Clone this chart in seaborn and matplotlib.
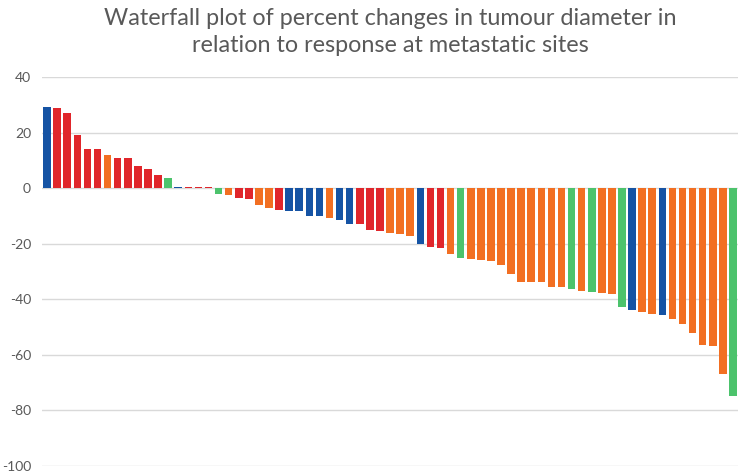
import pandas as pd
import seaborn as sns
import matplotlib.pyplot as plt

# percent change in tumour diameter, one bar per metastatic site (sorted)
change = [29.4, 28.9, 27.0, 19.3, 14.0, 14.0, 11.8, 11.0, 11.0, 7.8,
          7.0, 4.7, 3.5, 0.5, 0.5, 0.5, 0.5, -2.2, -2.5, -3.6,
          -4.0, -6.1, -7.0, -7.8, -8.1, -8.3, -9.9, -10.1, -10.8, -11.4,
          -13.0, -13.0, -15.0, -15.4, -16.1, -16.7, -17.3, -20.0, -21.4, -21.5,
          -23.9, -25.1, -25.5, -26.0, -26.2, -27.6, -31.0, -33.7, -33.7, -33.9,
          -35.5, -35.5, -36.3, -37.1, -37.6, -37.9, -38.0, -42.9, -44.0, -44.5,
          -45.5, -45.6, -47.3, -48.9, -52.3, -56.7, -56.9, -66.9, -75.1]
# response group of each site (colour coded in the original, no legend)
response = ['B', 'R', 'R', 'R', 'R', 'R', 'O', 'R', 'R', 'R',
            'R', 'R', 'G', 'B', 'R', 'R', 'R', 'G', 'O', 'R',
            'R', 'O', 'O', 'R', 'B', 'B', 'B', 'B', 'O', 'B',
            'B', 'R', 'R', 'R', 'O', 'O', 'O', 'B', 'R', 'R',
            'O', 'G', 'O', 'O', 'O', 'O', 'O', 'O', 'O', 'O',
            'O', 'O', 'G', 'O', 'G', 'O', 'O', 'G', 'B', 'O',
            'O', 'B', 'O', 'O', 'O', 'O', 'O', 'O', 'G']
colors = {'B': '#1553a4', 'R': '#e0262b', 'O': '#f26f22', 'G': '#4cc36c'}

df = pd.DataFrame({'site': range(len(change)), 'change': change, 'response': response})

plt.rcParams['axes.unicode_minus'] = False

fig = plt.figure(figsize=(7.38, 4.76), dpi=100)
ax = fig.add_axes([0.057, 0.022, 0.943, 0.816])

sns.barplot(data=df, x='site', y='change', hue='response', palette=colors,
            dodge=False, width=0.75, saturation=1, legend=False, ax=ax)

ax.set_xlim(-0.5, len(change) - 0.5)
ax.set_ylim(-100, 40)
ax.set_yticks(range(-100, 41, 20))
ax.yaxis.grid(True, color='#d9d9d9', linewidth=1)
ax.set_axisbelow(True)
ax.set_xticks([])
ax.set_xlabel('')
ax.set_ylabel('')
for s in ax.spines.values():
    s.set_visible(False)
ax.tick_params(axis='y', length=0, labelsize=10, labelcolor='#595959', pad=8)
for lbl in ax.get_yticklabels():
    lbl.set_family('Lato')

ax.set_title('Waterfall plot of percent changes in tumour diameter in\nrelation to response at metastatic sites',
             fontsize=16.8, color='#595959', family='Lato', pad=18, linespacing=1.35)

fig.savefig('out.png', dpi=100)
